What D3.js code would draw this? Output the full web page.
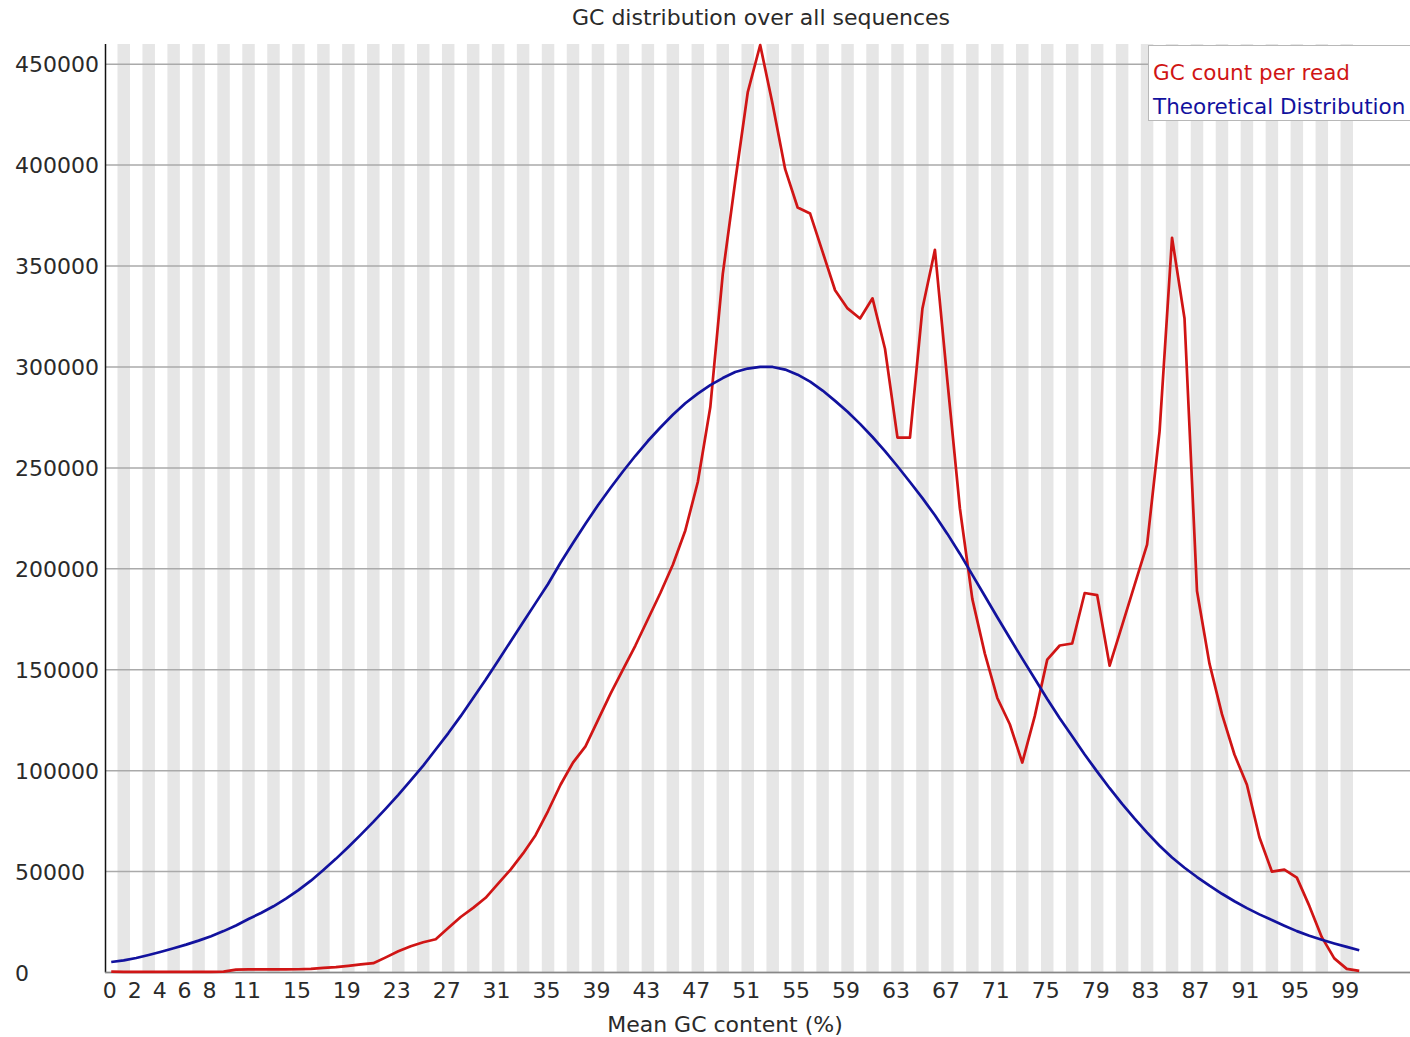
<!DOCTYPE html>
<html>
<head>
  <title>GC distribution over all sequences</title>
  <style>
    body { margin: 0; background: #fff; }
    text { font-family: "DejaVu Sans", sans-serif; fill: #2a2a2a; }
  </style>
</head>
<body>
  <svg id="chart"></svg>

  <script src="https://d3js.org/d3.v7.min.js"></script>
  <script>
    var width = 1410;
    var height = 1037;

    // GC % categories 0..100
    var gcBins = d3.range(0, 101);
    var xTickLabels = [0, 2, 4, 6, 8, 11, 15, 19, 23, 27, 31, 35, 39, 43, 47, 51, 55, 59, 63, 67, 71, 75, 79, 83, 87, 91, 95, 99];
    var yTicks = [0, 50000, 100000, 150000, 200000, 250000, 300000, 350000, 400000, 450000];

    // read counts per GC bin
    var gcCount = [
      400, 300, 300, 300, 300, 300, 300, 300, 300, 400,
      1400, 1500, 1500, 1500, 1500, 1600, 1800, 2300, 2700, 3300,
      4000, 4600, 7500, 10500, 13000, 15000, 16500, 22000, 27500, 32000,
      37000, 44000, 51000, 59000, 68000, 80000, 93000, 104000, 112000, 125000,
      138000, 150000, 162000, 175000, 188000, 202000, 219000, 243000, 280000, 346000,
      392000, 436000, 459500, 430000, 398000, 379000, 376000, 357000, 338000, 329000,
      324000, 334000, 309000, 265000, 265000, 329000, 358000, 293000, 230000, 185000,
      158000, 136000, 123000, 104000, 127000, 155000, 162000, 163000, 188000, 187000,
      152000, 172000, 192000, 212000, 268000, 364000, 324000, 189000, 153000, 128000,
      108000, 93000, 67000, 50000, 51000, 47000, 33000, 17500, 7000, 1800,
      800
    ];

    var theoretical = [
      5200, 6000, 7200, 8700, 10300, 12000, 13800, 15800, 18000, 20500,
      23300, 26500, 29500, 32800, 36600, 40800, 45500, 50800, 56300, 62200,
      68300, 74600, 81200, 88000, 95200, 102500, 110500, 118500, 127000, 136000,
      145000, 154500, 164000, 173500, 183000, 192500, 203000, 212800, 222300, 231500,
      240000, 248200, 256000, 263300, 270000, 276300, 282000, 286800, 291000, 294500,
      297500, 299200, 300000, 300000, 298700, 296200, 292700, 288300, 283200, 277800,
      271800, 265300, 258300, 250800, 243000, 235000, 226500, 217300, 207500, 197000,
      186500, 176000, 165700, 155500, 145500, 135500, 126000, 117000, 108000, 99500,
      91300, 83500, 76200, 69300, 62800, 57000, 51900, 47300, 43000, 39000,
      35300, 31900, 28800, 26000, 23200, 20500, 18200, 16200, 14400, 12700,
      11000
    ];

    var seriesNames = ["GC count per read", "Theoretical Distribution"];
    var seriesColors = ["#d01515", "#12129e"];

    var margin = { top: 44, left: 105, right: 0, bottom: 65 };
    var plotBottom = height - margin.bottom + 0.5;

    var svg = d3.select("#chart")
      .attr("width", width)
      .attr("height", height);

    svg.append("rect").attr("width", width).attr("height", height).attr("fill", "#fff");

    var x = d3.scaleBand()
      .domain(gcBins)
      .range([margin.left, margin.left + 101 * 12.48]);

    var y = d3.scaleLinear()
      .domain([0, 460000])
      .range([plotBottom, margin.top]);

    // alternating stripes, one per category
    svg.append("g")
      .selectAll("rect")
      .data(gcBins.filter(function(d) { return d % 2 === 1; }))
      .enter().append("rect")
      .attr("x", function(d) { return x(d); })
      .attr("y", margin.top)
      .attr("width", x.bandwidth())
      .attr("height", plotBottom - margin.top)
      .attr("fill", "#e6e6e6");

    // horizontal grid
    svg.append("g")
      .selectAll("line")
      .data(yTicks)
      .enter().append("line")
      .attr("x1", margin.left)
      .attr("x2", width)
      .attr("y1", function(d) { return y(d); })
      .attr("y2", function(d) { return y(d); })
      .attr("stroke", "#aaa")
      .attr("stroke-width", 1.5);

    // y labels, left aligned like fastqc
    svg.append("g")
      .selectAll("text")
      .data(yTicks)
      .enter().append("text")
      .attr("x", 15)
      .attr("y", function(d) { return y(d) + 8; })
      .style("font-size", "22px")
      .text(function(d) { return d; });

    // x labels
    svg.append("g")
      .selectAll("text")
      .data(xTickLabels)
      .enter().append("text")
      .attr("x", function(d) { return x(d) + x.bandwidth() / 2 - 1.5; })
      .attr("y", 998)
      .attr("text-anchor", "middle")
      .style("font-size", "22px")
      .text(function(d) { return d; });

    // axes
    svg.append("line")
      .attr("x1", margin.left + 0.5).attr("x2", margin.left + 0.5)
      .attr("y1", margin.top).attr("y2", plotBottom)
      .attr("stroke", "#111").attr("stroke-width", 1.5);
    svg.append("line")
      .attr("x1", margin.left).attr("x2", width)
      .attr("y1", plotBottom).attr("y2", plotBottom)
      .attr("stroke", "#888").attr("stroke-width", 1.5);

    // lines
    var line = d3.line()
      .x(function(d, i) { return x(gcBins[i]) + x.bandwidth() / 2; })
      .y(function(d) { return y(d); });

    [gcCount, theoretical].forEach(function(s, k) {
      svg.append("path")
        .datum(s)
        .attr("d", line)
        .attr("fill", "none")
        .attr("stroke", seriesColors[k])
        .attr("stroke-width", 2.7)
        .attr("stroke-linejoin", "round");
    });

    // titles
    svg.append("text")
      .attr("x", 761)
      .attr("y", 25)
      .attr("text-anchor", "middle")
      .style("font-size", "22px")
      .text("GC distribution over all sequences");

    svg.append("text")
      .attr("x", 725)
      .attr("y", 1032)
      .attr("text-anchor", "middle")
      .style("font-size", "22px")
      .text("Mean GC content (%)");

    // legend (kept just inside the right edge)
    var legend = svg.append("g");
    legend.append("rect")
      .attr("x", 1148.5)
      .attr("y", 45.5)
      .attr("width", 280)
      .attr("height", 75)
      .attr("fill", "#fff")
      .attr("stroke", "#b8b8b8");
    legend.selectAll("text")
      .data(seriesNames)
      .enter().append("text")
      .attr("x", 1153)
      .attr("y", function(d, i) { return 80 + i * 34; })
      .style("font-size", "21.5px")
      .style("fill", function(d, i) { return seriesColors[i]; })
      .text(function(d) { return d; });
  </script>
</body>
</html>
